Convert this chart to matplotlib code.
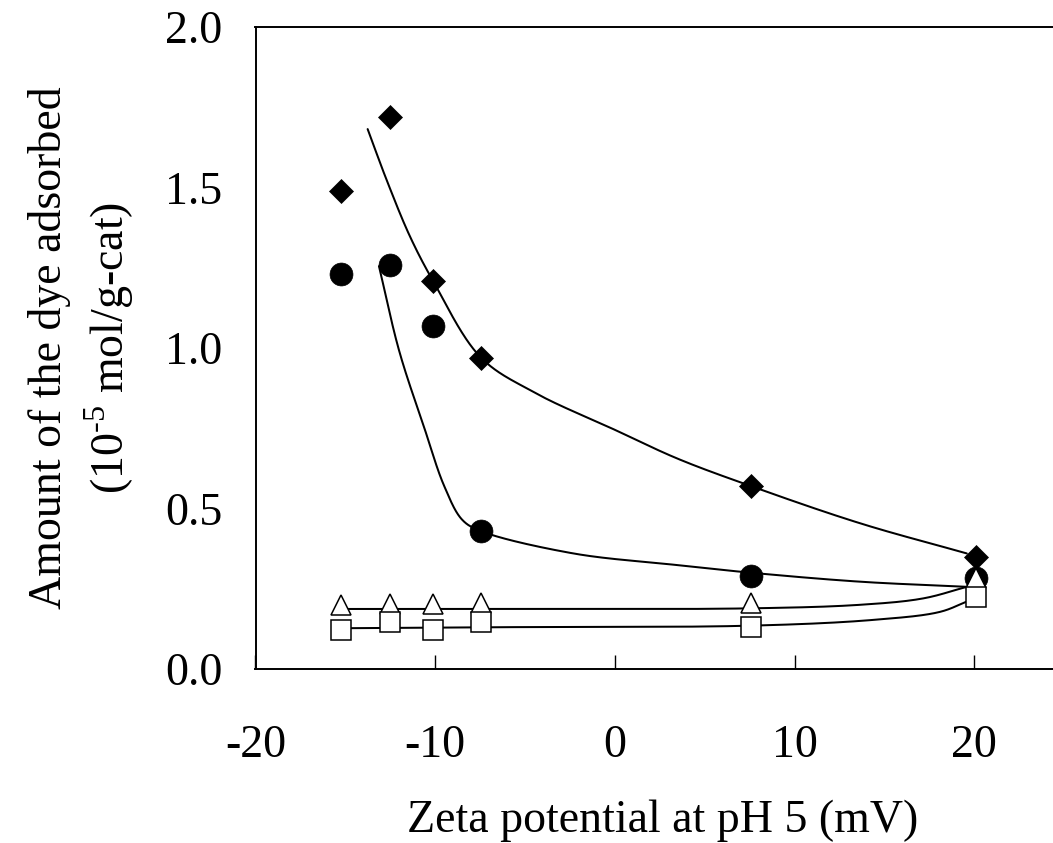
import numpy as np
import matplotlib
matplotlib.use("Agg")
import matplotlib.pyplot as plt

plt.rcParams["font.family"] = ["Liberation Serif", "DejaVu Serif"]
plt.rcParams["mathtext.fontset"] = "custom"
plt.rcParams["mathtext.rm"] = "Liberation Serif"
plt.rcParams["axes.unicode_minus"] = False

# Zeta potential of each catalyst at pH 5 (mV)
zeta = [-15.26, -12.52, -10.1, -7.47, 7.56, 20.1]

# Amount of dye adsorbed (10^-5 mol/g-cat) for the four dyes
dye_diamond = [1.49, 1.72, 1.21, 0.97, 0.57, 0.35]
dye_circle = [1.23, 1.26, 1.07, 0.43, 0.29, 0.283]
dye_triangle = [0.198, 0.204, 0.201, 0.206, 0.205, 0.285]
dye_square = [0.122, 0.145, 0.122, 0.146, 0.132, 0.224]

# Hand-drawn guide curves (knots of each smooth trend line)
guide_diamond_x = [-13.76, -12.70, -11.40, -10.1, -7.47, -4.5, 0.0, 3.5, 7.56, 13.64, 19.58]
guide_diamond_y = [1.682, 1.523, 1.347, 1.207, 0.971, 0.862, 0.745, 0.655, 0.570, 0.454, 0.360]
guide_circle_x = [-13.13, -12.0, -10.6, -9.5, -8.5, -7.47, -2.31, 3.25, 7.56, 13.64, 19.58]
guide_circle_y = [1.255, 0.990, 0.750, 0.570, 0.465, 0.430, 0.360, 0.325, 0.300, 0.272, 0.256]
guide_triangle_x = [-15.26, -7.47, 7.56, 13.64, 17.16, 19.58]
guide_triangle_y = [0.187, 0.187, 0.189, 0.200, 0.220, 0.256]
guide_square_x = [-15.26, -7.47, 7.56, 14.38, 18.09, 19.58]
guide_square_y = [0.127, 0.130, 0.135, 0.153, 0.178, 0.210]

x_ticks = [-20, -10, 0, 10, 20]
y_ticks = [0.0, 0.5, 1.0, 1.5, 2.0]
y_ticklabels = ["0.0", "0.5", "1.0", "1.5", "2.0"]

FS = 33

fig = plt.figure(figsize=(10.53, 8.43), dpi=100)
ax = fig.add_axes([255.5 / 1053, 174 / 843, 808.7 / 1053, 642 / 843])
ax.set_xlim(-20, 25)
ax.set_ylim(0, 2.0)


def catmull_rom(ax, xs, ys, n=60):
    """Centripetal Catmull-Rom curve through the knots, built in display space."""
    pts = ax.transData.transform(np.column_stack([xs, ys]))
    p = np.vstack([2 * pts[0] - pts[1], pts, 2 * pts[-1] - pts[-2]])
    out = []
    for i in range(1, len(p) - 2):
        p0, p1, p2, p3 = p[i - 1], p[i], p[i + 1], p[i + 2]
        t0 = 0.0
        t1 = t0 + np.linalg.norm(p1 - p0) ** 0.5
        t2 = t1 + np.linalg.norm(p2 - p1) ** 0.5
        t3 = t2 + np.linalg.norm(p3 - p2) ** 0.5
        t = np.linspace(t1, t2, n)[:, None]
        a1 = (t1 - t) / (t1 - t0) * p0 + (t - t0) / (t1 - t0) * p1
        a2 = (t2 - t) / (t2 - t1) * p1 + (t - t1) / (t2 - t1) * p2
        a3 = (t3 - t) / (t3 - t2) * p2 + (t - t2) / (t3 - t2) * p3
        b1 = (t2 - t) / (t2 - t0) * a1 + (t - t0) / (t2 - t0) * a2
        b2 = (t3 - t) / (t3 - t1) * a2 + (t - t1) / (t3 - t1) * a3
        c = (t2 - t) / (t2 - t1) * b1 + (t - t1) / (t2 - t1) * b2
        out.append(c if i == 1 else c[1:])
    curve = np.vstack(out)
    data = ax.transData.inverted().transform(curve)
    return data[:, 0], data[:, 1]


line_kw = dict(color="black", lw=1.45, solid_capstyle="round", zorder=2)
for gx, gy in [(guide_diamond_x, guide_diamond_y), (guide_circle_x, guide_circle_y),
               (guide_triangle_x, guide_triangle_y), (guide_square_x, guide_square_y)]:
    cx, cy = catmull_rom(ax, gx, gy)
    ax.plot(cx, cy, **line_kw)

ax.plot(zeta, dye_circle, ls="none", marker="o", ms=16.5, mfc="black",
        mec="black", mew=0.5, zorder=3)
ax.plot(zeta, dye_triangle, ls="none", marker="^", ms=15.0, mfc="white",
        mec="black", mew=1.1, zorder=4)
ax.plot(zeta, dye_square, ls="none", marker="s", ms=14.8, mfc="white",
        mec="black", mew=1.1, zorder=5)
ax.plot(zeta, dye_diamond, ls="none", marker="D", ms=12.2, mfc="black",
        mec="black", mew=0.5, zorder=6)

for s in ax.spines.values():
    s.set_linewidth(1.4)
    s.set_color("black")

ax.set_xticks(x_ticks)
ax.set_xticklabels([str(v) for v in x_ticks])
ax.set_yticks(y_ticks)
ax.set_yticklabels(y_ticklabels)
ax.tick_params(axis="x", direction="in", length=10, width=1.0, pad=40, labelsize=FS)
ax.tick_params(axis="y", length=0, pad=24, labelsize=FS)

fig.text(663 / 1053, 1 - 832 / 843, "Zeta potential at pH 5 (mV)", fontsize=FS,
         ha="center", va="baseline")
fig.text(82 / 1053, 1 - 348 / 843,
         "Amount of the dye adsorbed\n(10$^{\\text{-5}}$ mol/g-cat)",
         fontsize=FS, rotation=90, ha="center", va="center",
         multialignment="center", linespacing=1.3)

fig.savefig("out.png", dpi=100)
